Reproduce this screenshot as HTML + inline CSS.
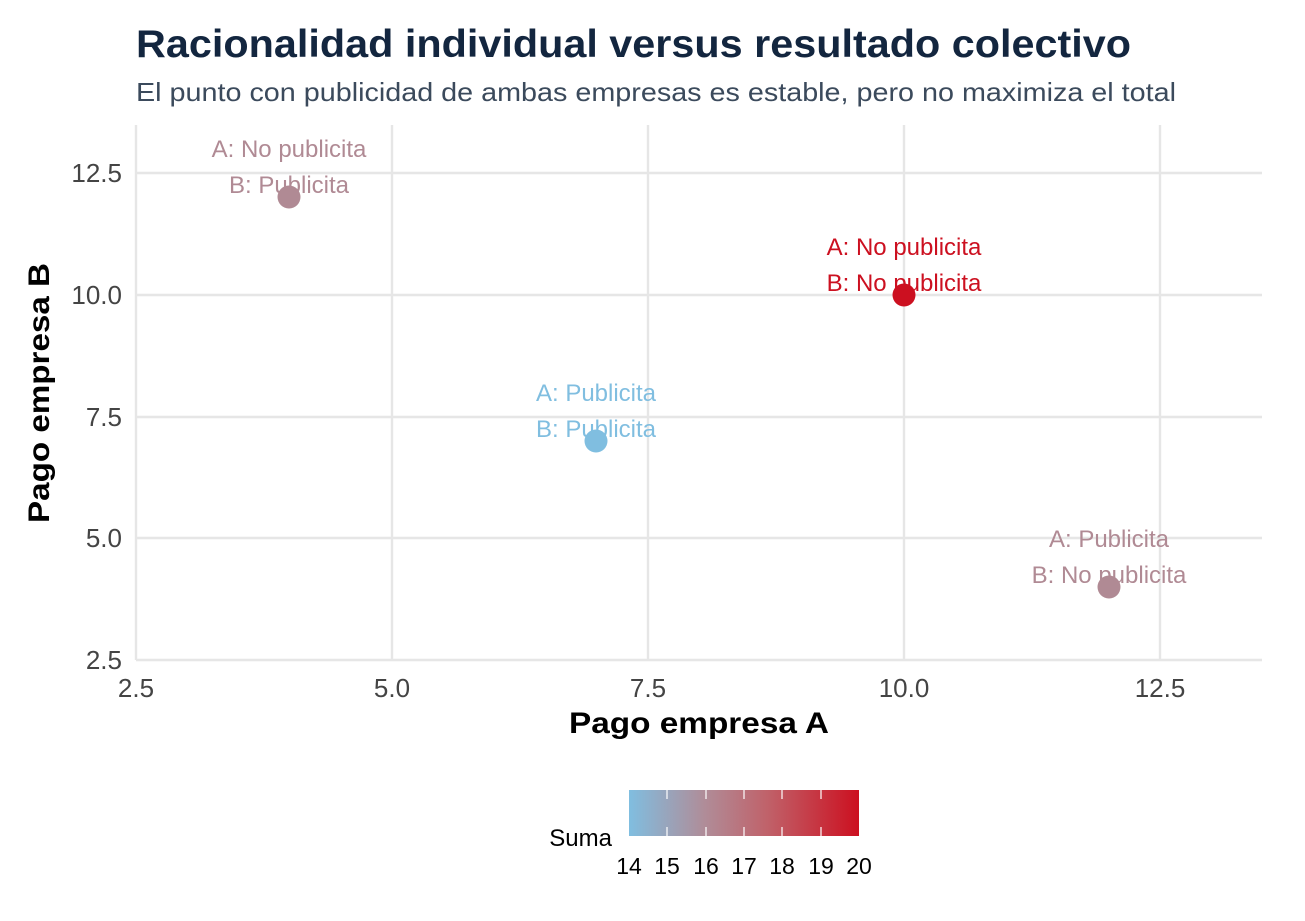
<!DOCTYPE html>
<html><head><meta charset="utf-8"><style>body{margin:0;background:#fff}svg{display:block}</style></head>
<body>
<svg width="1305" height="921" xmlns="http://www.w3.org/2000/svg" font-family="Liberation Sans, Arial, sans-serif">
<defs><linearGradient id="g" x1="0" x2="1" y1="0" y2="0">
<stop offset="0" stop-color="#80bee0"/><stop offset="0.33" stop-color="#b08c98"/><stop offset="0.6" stop-color="#c0626a"/><stop offset="1" stop-color="#cc1020"/></linearGradient></defs>
<text x="136" y="57" font-size="39" font-weight="bold" fill="#13263f" textLength="995" lengthAdjust="spacingAndGlyphs">Racionalidad individual versus resultado colectivo</text>
<text x="136" y="101" font-size="26" fill="#3b4a5c" textLength="1040" lengthAdjust="spacingAndGlyphs">El punto con publicidad de ambas empresas es estable, pero no maximiza el total</text>
<g stroke="#e6e6e6" stroke-width="2.4">
<line x1="136" x2="1262" y1="173" y2="173"/><line x1="136" x2="1262" y1="295" y2="295"/><line x1="136" x2="1262" y1="417" y2="417"/><line x1="136" x2="1262" y1="538" y2="538"/><line x1="136" x2="1262" y1="660" y2="660"/>
<line y1="125" y2="660" x1="136" x2="136"/><line y1="125" y2="660" x1="392" x2="392"/><line y1="125" y2="660" x1="648" x2="648"/><line y1="125" y2="660" x1="904" x2="904"/><line y1="125" y2="660" x1="1160" x2="1160"/>
</g>
<g font-size="26" fill="#444" text-anchor="end">
<text x="122" y="182">12.5</text><text x="122" y="304">10.0</text><text x="122" y="426">7.5</text><text x="122" y="547">5.0</text><text x="122" y="669">2.5</text></g>
<g font-size="26" fill="#444" text-anchor="middle">
<text x="136" y="697">2.5</text><text x="392" y="697">5.0</text><text x="648" y="697">7.5</text><text x="904" y="697">10.0</text><text x="1160" y="697">12.5</text></g>
<text x="699" y="733" font-size="30" font-weight="bold" text-anchor="middle" textLength="260" lengthAdjust="spacingAndGlyphs">Pago empresa A</text>
<text transform="translate(49 393) rotate(-90)" font-size="30" font-weight="bold" text-anchor="middle" textLength="260" lengthAdjust="spacingAndGlyphs">Pago empresa B</text>
<circle cx="289" cy="197" r="11.5" fill="#b08a94"/>
<circle cx="904" cy="295" r="11.5" fill="#cc1020"/>
<circle cx="596" cy="441" r="11.5" fill="#80bee0"/>
<circle cx="1109" cy="587" r="11.5" fill="#b08a94"/>
<g font-size="24" text-anchor="middle">
<text x="289" y="157" fill="#b08a94">A: No publicita</text><text x="289" y="193" fill="#b08a94">B: Publicita</text>
<text x="904" y="255" fill="#cc1020">A: No publicita</text><text x="904" y="291" fill="#cc1020">B: No publicita</text>
<text x="596" y="401" fill="#80bee0">A: Publicita</text><text x="596" y="437" fill="#80bee0">B: Publicita</text>
<text x="1109" y="547" fill="#b08a94">A: Publicita</text><text x="1109" y="583" fill="#b08a94">B: No publicita</text>
</g>
<rect x="629" y="790" width="230" height="46" fill="url(#g)"/>
<g stroke="#fff" stroke-width="1.2">
<line x1="667" x2="667" y1="790" y2="799"/><line x1="667" x2="667" y1="827" y2="836"/>
<line x1="706" x2="706" y1="790" y2="799"/><line x1="706" x2="706" y1="827" y2="836"/>
<line x1="744" x2="744" y1="790" y2="799"/><line x1="744" x2="744" y1="827" y2="836"/>
<line x1="782" x2="782" y1="790" y2="799"/><line x1="782" x2="782" y1="827" y2="836"/>
<line x1="821" x2="821" y1="790" y2="799"/><line x1="821" x2="821" y1="827" y2="836"/>
</g>
<text x="612" y="846" font-size="24" text-anchor="end">Suma</text>
<g font-size="23" text-anchor="middle">
<text x="629" y="874">14</text><text x="667" y="874">15</text><text x="706" y="874">16</text><text x="744" y="874">17</text><text x="782" y="874">18</text><text x="821" y="874">19</text><text x="859" y="874">20</text></g>
</svg>
</body></html>
